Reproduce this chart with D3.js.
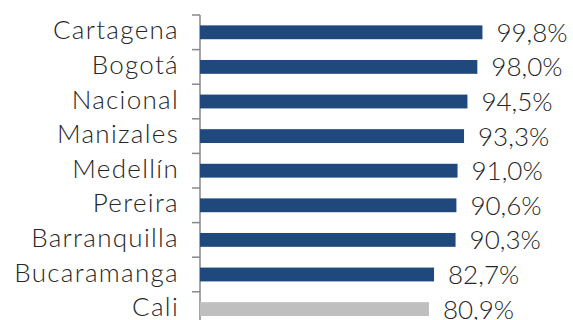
<!DOCTYPE html>
<html><head><meta charset="utf-8">
<script src="https://cdn.jsdelivr.net/npm/d3@7"></script>
<style>
html,body{margin:0;padding:0;background:#fff;}
text{font-family:Lato,"Open Sans",sans-serif;font-weight:300;fill:#262626;}
</style></head>
<body>
<svg id="chart" width="573" height="320"></svg>
<script>
const categories = ["Cartagena","Bogotá","Nacional","Manizales","Medellín","Pereira","Barranquilla","Bucaramanga","Cali"];
const values = [99.8, 98.0, 94.5, 93.3, 91.0, 90.6, 90.3, 82.7, 80.9];
const highlight = ["Cali"];

const svg = d3.select("#chart");
const x = d3.scaleLinear().domain([0, 100]).range([200, 483]);
const y = d3.scaleBand().domain(categories).range([15, 326.4]).paddingInner(0.6).paddingOuter(0.3);
const step = y.step();
const fmt = v => d3.format(".1f")(v).replace(".", ",") + "%";

// axis line
svg.append("line").attr("x1", x(0)).attr("x2", x(0)).attr("y1", y.range()[0]).attr("y2", y.range()[1])
  .attr("stroke", "#888").attr("stroke-width", 1.5);
// tick marks at band boundaries
const bounds = categories.map(c => y(c) - (step - y.bandwidth()) / 2);
svg.selectAll("line.tick").data(bounds).join("line").attr("class", "tick")
  .attr("x1", x(0) - 8).attr("x2", x(0)).attr("y1", d => d).attr("y2", d => d)
  .attr("stroke", "#888").attr("stroke-width", 1.5);

// bars
svg.selectAll("rect.bar").data(categories).join("rect").attr("class", "bar")
  .attr("x", x(0)).attr("y", c => y(c)).attr("height", y.bandwidth())
  .attr("width", (c, i) => x(values[i]) - x(0))
  .attr("fill", c => highlight.includes(c) ? "#bfbfbf" : "#1f487c");

// category labels
svg.selectAll("text.cat").data(categories).join("text").attr("class", "cat")
  .attr("x", 179).attr("y", c => y(c) + y.bandwidth() / 2 + 7)
  .attr("text-anchor", "end").attr("font-size", 26).attr("letter-spacing", 1.3).text(c => c);

// value labels
svg.selectAll("text.val").data(categories).join("text").attr("class", "val")
  .attr("x", (c, i) => x(values[i]) + 14).attr("y", c => y(c) + y.bandwidth() / 2 + 9.5)
  .attr("font-size", 26).text((c, i) => fmt(values[i]));
</script>
</body></html>
